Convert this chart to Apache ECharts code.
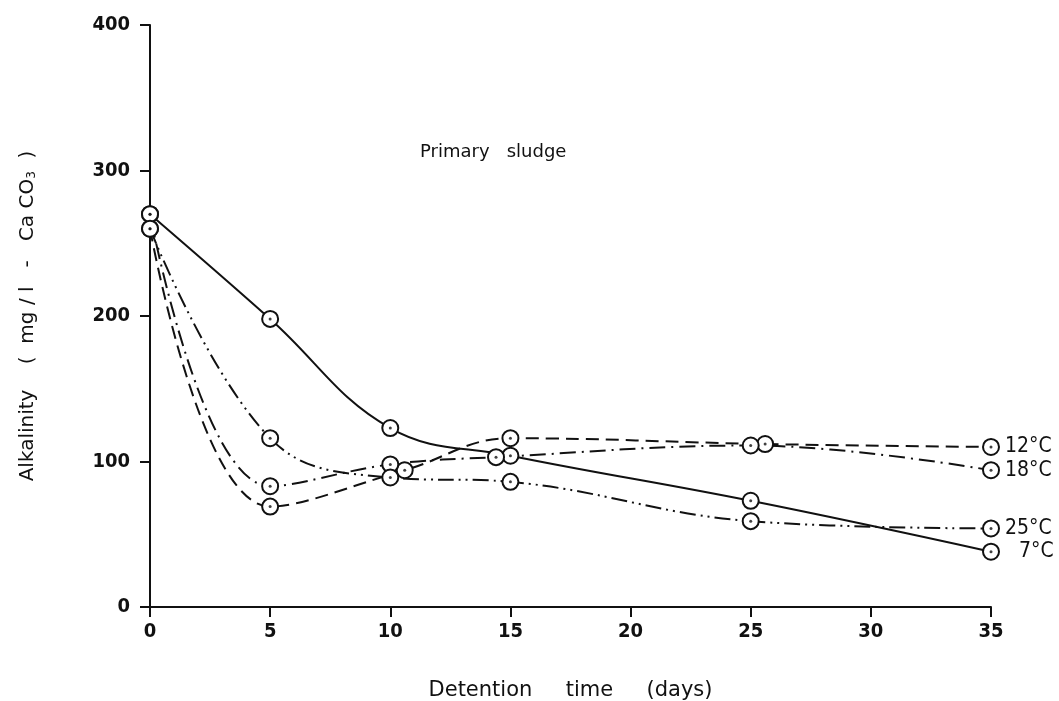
<!DOCTYPE html>
<html>
<head>
<meta charset="utf-8">
<style>
  html, body { margin: 0; padding: 0; background: #fff; }
  #chart { width: 1059px; height: 701px; }
</style>
<script src="https://cdn.jsdelivr.net/npm/echarts@6/dist/echarts.min.js"></script>
</head>
<body>
<div id="chart"></div>
<script>
const temp7 = [[0, 270], [5, 198], [10, 123], [15, 104], [25, 73], [35, 38]];
const temp12 = [[0, 260], [5, 69], [10.6, 94], [15, 116], [25.6, 112], [35, 110]];
const temp18 = [[0, 270], [5, 83], [10, 98], [14.4, 103], [25, 111], [35, 94]];
const temp25 = [[0, 260], [5, 116], [10, 89], [15, 86], [25, 59], [35, 54]];

const seriesNames = ['7°C', '12°C', '18°C', '25°C'];
const xTicks = [0, 35, 5];   // min, max, interval
const yTicks = [0, 400, 100];

const COND = '"DejaVu Sans Condensed", "DejaVu Sans", sans-serif';
const WIDE = '"DejaVu Sans", sans-serif';

const chart = echarts.init(document.getElementById('chart'), null, { renderer: 'canvas' });

const dashes = {
  '7°C': 'solid',
  '12°C': [13, 7],
  '18°C': [16, 6, 2, 6],
  '25°C': [16, 5, 2, 5, 2, 5]
};
const labelGap = { '7°C': 28, '12°C': 14, '18°C': 14, '25°C': 14 };

const curves = [temp7, temp12, temp18, temp25].map((data, i) => {
  const name = seriesNames[i];
  return {
    name,
    type: 'line',
    data,
    smooth: 0.4,
    symbol: 'emptyCircle',
    symbolSize: 16,
    showSymbol: true,
    lineStyle: { color: '#111', width: 2, type: dashes[name] },
    itemStyle: { color: '#111', borderWidth: 2.2 },
    endLabel: {
      show: true,
      formatter: '{a}',
      distance: labelGap[name],
      color: '#111',
      fontFamily: COND,
      fontSize: 21
    },
    z: 2
  };
});

const dots = [temp7, temp12, temp18, temp25].map((data) => ({
  type: 'scatter',
  data,
  symbol: 'circle',
  symbolSize: 3,
  itemStyle: { color: '#111' },
  silent: true,
  z: 5
}));

chart.setOption({
  backgroundColor: '#fff',
  animation: false,
  grid: { left: 150, right: 68, top: 25, bottom: 94, outerBoundsMode: 'none' },
  graphic: [{
    type: 'text',
    left: 420,
    top: 143,
    style: { text: 'Primary   sludge', fontFamily: WIDE, fontSize: 18, fill: '#111' }
  }],
  xAxis: {
    type: 'value',
    min: xTicks[0],
    max: xTicks[1],
    interval: xTicks[2],
    name: 'Detention     time     (days)',
    nameLocation: 'middle',
    nameGap: 73,
    nameTextStyle: { fontFamily: WIDE, fontSize: 21, color: '#111' },
    axisLine: { lineStyle: { color: '#111', width: 2 } },
    axisTick: { show: true, length: 10, lineStyle: { color: '#111', width: 2 } },
    axisLabel: { margin: 15, fontFamily: COND, fontSize: 20, fontWeight: 'bold', color: '#111' },
    splitLine: { show: false }
  },
  yAxis: {
    type: 'value',
    min: yTicks[0],
    max: yTicks[1],
    interval: yTicks[2],
    name: 'Alkalinity    (  mg / l   -   Ca CO{sub|3}  )',
    nameLocation: 'middle',
    nameGap: 112,
    nameRotate: 90,
    nameTextStyle: {
      fontFamily: WIDE,
      fontSize: 20,
      color: '#111',
      rich: { sub: { fontFamily: WIDE, fontSize: 12, color: '#111', padding: [9, 0, 0, 0] } }
    },
    axisLine: { show: true, lineStyle: { color: '#111', width: 2 } },
    axisTick: { show: true, length: 10, lineStyle: { color: '#111', width: 2 } },
    axisLabel: { margin: 20, fontFamily: COND, fontSize: 20, fontWeight: 'bold', color: '#111' },
    splitLine: { show: false }
  },
  series: [...curves, ...dots]
});

window.addEventListener('resize', () => chart.resize());
</script>
</body>
</html>
